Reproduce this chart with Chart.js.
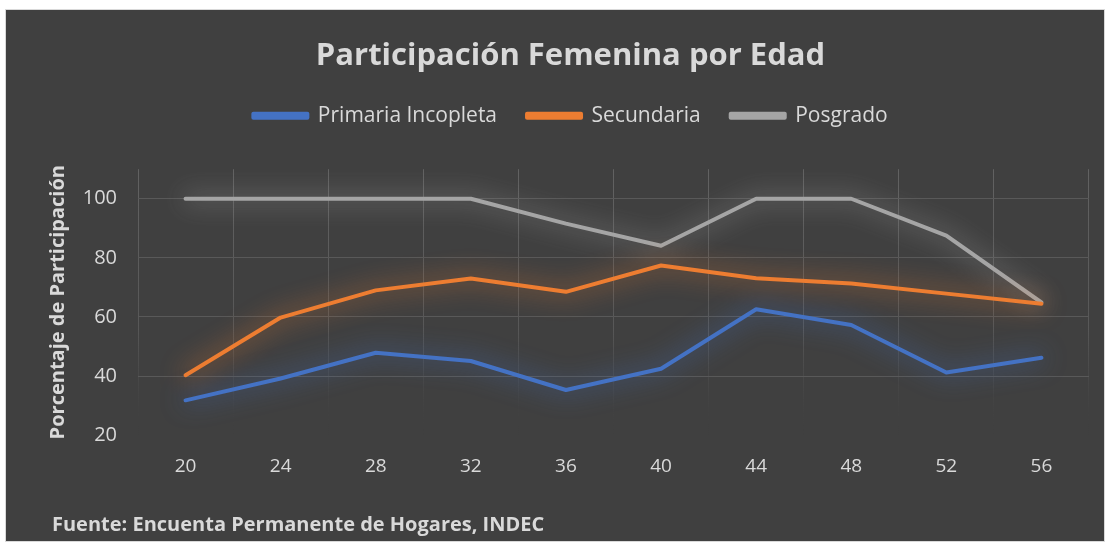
<!DOCTYPE html>
<html>
<head>
<meta charset="utf-8">
<script src="https://cdn.jsdelivr.net/npm/chart.js@4"></script>
<style>
  body { margin: 0; background: #fff; }
  #panel {
    position: absolute; left: 5px; top: 9px;
    width: 1100px; height: 533px;
    background: #404040; border: 1px solid #d9d9d9; box-sizing: border-box;
  }
  canvas { display: block; }
</style>
</head>
<body>
<div id="panel"><canvas id="chart" width="1098" height="531"></canvas></div>
<script>
const edades = ["20", "24", "28", "32", "36", "40", "44", "48", "52", "56"];
const primaria = [31.8, 39.2, 47.9, 45.1, 35.3, 42.5, 62.6, 57.3, 41.2, 46.2];
const secundaria = [40.3, 59.8, 69.0, 73.0, 68.5, 77.4, 73.1, 71.3, 67.9, 64.5];
const posgrado = [100, 100, 100, 100, 91.6, 84.1, 100, 100, 87.5, 64.9];
const yTicks = [20, 40, 60, 80, 100];

const textColor = "#d9d9d9";
const font = "'Open Sans', sans-serif";

// glow under each line + extra room under the legend
const glow = {
  id: "glow",
  beforeLayout(chart) {
    const lg = chart.legend;
    if (lg && !lg._padded) {
      const fit = lg.fit;
      lg.fit = function () { fit.call(this); this.height += 33; };
      lg._padded = true;
    }
  },
  beforeDatasetDraw(chart, args) {
    const ctx = chart.ctx;
    ctx.save();
    ctx.shadowColor = args.meta.dataset.options.borderColor;
    ctx.shadowBlur = 24;
  },
  afterDatasetDraw(chart) {
    chart.ctx.restore();
  },
};

function fadeGrid(c) {
  const area = c.chart.chartArea;
  if (!area) return "#5a5a5a";
  const g = c.chart.ctx.createLinearGradient(0, area.top, 0, area.bottom);
  g.addColorStop(0, "rgba(98,98,98,1)");
  g.addColorStop(0.6, "rgba(90,90,90,0.9)");
  g.addColorStop(0.9, "rgba(80,80,80,0.1)");
  g.addColorStop(1, "rgba(64,64,64,0)");
  return g;
}

const mkSet = (label, data, color) => ({
  label, data,
  borderColor: color, backgroundColor: color,
  borderWidth: 4, pointRadius: 0, tension: 0,
  borderCapStyle: "round", borderJoinStyle: "round",
});

new Chart(document.getElementById("chart"), {
  type: "line",
  data: {
    labels: edades,
    datasets: [
      mkSet("Primaria Incopleta", primaria, "#4472c4"),
      mkSet("Secundaria", secundaria, "#ed7d31"),
      mkSet("Posgrado", posgrado, "#a5a5a5"),
    ],
  },
  options: {
    responsive: false,
    animation: false,
    layout: { padding: { left: 46, right: 15, top: 0, bottom: 4 } },
    plugins: {
      title: {
        display: true,
        text: "Participación Femenina por Edad",
        color: textColor,
        font: { family: font, size: 31, weight: "bold" },
        padding: { top: 28, bottom: 0 },
      },
      legend: {
        labels: {
          color: textColor,
          font: { family: font, size: 21 },
          boxWidth: 54, boxHeight: 4,
          padding: 30,
        },
      },
      subtitle: {
        display: true,
        position: "bottom",
        align: "start",
        text: "Fuente: Encuenta Permanente de Hogares, INDEC",
        color: textColor,
        font: { family: font, size: 20, weight: "bold" },
        padding: { top: 15, bottom: 0 },
      },
      tooltip: { enabled: false },
    },
    scales: {
      x: {
        offset: true,
        grid: { offset: true, color: fadeGrid, drawTicks: false },
        border: { display: false },
        ticks: { color: textColor, font: { family: font, size: 19 }, padding: 20 },
      },
      y: {
        min: 20, max: 110,
        afterBuildTicks(s) { s.ticks = yTicks.map(v => ({ value: v })); },
        afterFit(s) { s.width = 86; },
        grid: {
          drawTicks: false,
          color: c => (c.tick && c.tick.value === 20 ? "rgba(0,0,0,0)" : "#595959"),
        },
        border: { display: false },
        ticks: { color: textColor, font: { family: font, size: 20 }, padding: 21 },
        title: {
          display: true,
          text: "Porcentaje de Participación",
          color: textColor,
          font: { family: font, size: 20, weight: "bold", lineHeight: 1 },
          padding: { top: -4, bottom: 0 },
        },
      },
    },
  },
  plugins: [glow],
});
</script>
</body>
</html>
